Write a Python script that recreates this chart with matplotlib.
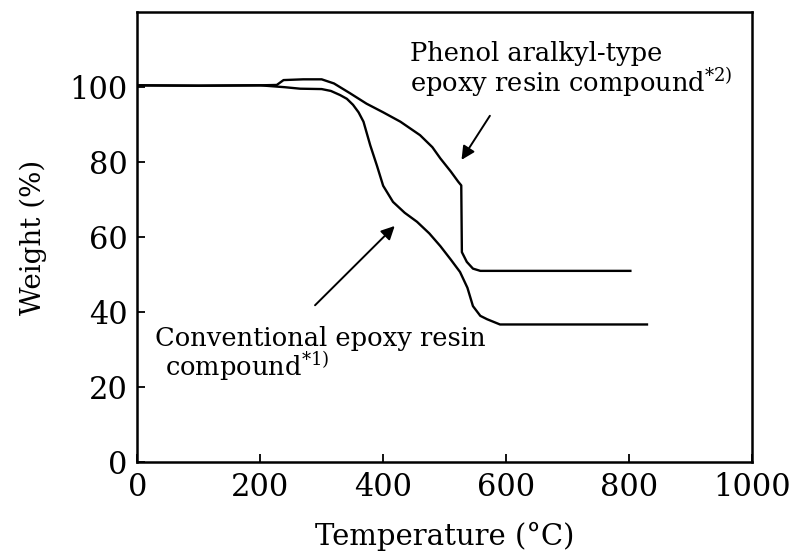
import matplotlib
matplotlib.use("Agg")
import matplotlib.pyplot as plt

plt.rcParams['font.family'] = ['DejaVu Serif']
plt.rcParams['mathtext.fontset'] = 'dejavuserif'

# TGA curves
conv_temp = [0, 100, 200, 240, 265, 300, 315, 330, 341, 351, 360, 368, 379, 390, 400, 416, 435, 455,
             475, 493, 510, 525, 537, 546, 558, 569, 590, 700, 829]
conv_weight = [100.5, 100.4, 100.5, 100.0, 99.6, 99.5, 99.0, 97.9, 96.9, 95.3, 93.3, 90.8, 84.5, 79.0,
               73.7, 69.4, 66.5, 64.1, 61.0, 57.6, 54.0, 50.7, 46.5, 41.6, 39.0, 38.1, 36.7, 36.7, 36.7]

phen_temp = [0, 100, 200, 227, 238, 270, 300, 320, 346, 373, 400, 428, 460, 480, 493, 510, 522,
             527, 528, 536, 546, 558, 650, 802]
phen_weight = [100.5, 100.4, 100.5, 100.6, 101.9, 102.1, 102.1, 101.0, 98.4, 95.6, 93.3, 90.8,
               87.2, 84.0, 81.0, 77.5, 74.8, 73.8, 56.0, 53.4, 51.6, 51.0, 51.0, 51.0]

x_ticks = [0, 200, 400, 600, 800, 1000]
y_ticks = [0, 20, 40, 60, 80, 100]

fig = plt.figure(figsize=(8.07, 5.56), dpi=100)
ax = fig.add_axes([0.170, 0.169, 0.762, 0.809])

ax.plot(conv_temp, conv_weight, color='black', lw=1.7)
ax.plot(phen_temp, phen_weight, color='black', lw=1.7)

ax.set_xlim(0, 1000)
ax.set_ylim(0, 120)
ax.set_xticks(x_ticks)
ax.set_yticks(y_ticks)
ax.tick_params(direction='in', length=6, width=1.3, labelsize=22, pad=7)
for s in ax.spines.values():
    s.set_linewidth(1.8)

ax.set_xlabel('Temperature (°C)', fontsize=21, labelpad=14)
ax.set_ylabel('Weight (%)', fontsize=20, labelpad=16)

# annotations
ax.annotate('', xy=(525, 80), xytext=(576, 93),
            arrowprops=dict(arrowstyle='-|>', color='black', lw=1.4, mutation_scale=20))
ax.annotate('', xy=(422, 63.5), xytext=(286, 41.3),
            arrowprops=dict(arrowstyle='-|>', color='black', lw=1.4, mutation_scale=20))

ax.text(444, 107, 'Phenol aralkyl-type', fontsize=18.5, ha='left', va='baseline')
ax.text(444, 98.8, r'epoxy resin compound$^{\mathrm{*2)}}$', fontsize=18.5, ha='left', va='baseline')
ax.text(29, 30.9, 'Conventional epoxy resin', fontsize=18.5, ha='left', va='baseline')
ax.text(45, 22.9, r'compound$^{\mathrm{*1)}}$', fontsize=18.5, ha='left', va='baseline')

fig.savefig('out.png', dpi=100)
